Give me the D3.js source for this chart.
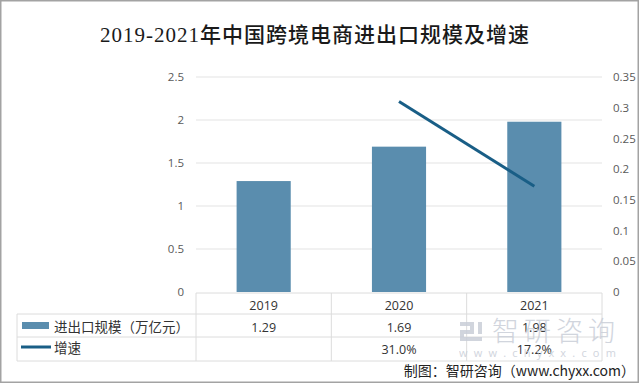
<!DOCTYPE html>
<html>
<head>
<meta charset="utf-8">
<script src="https://cdn.jsdelivr.net/npm/d3@7"></script>
<style>
  body { margin: 0; background: #fff; }
  svg { display: block; }
</style>
</head>
<body>
<div id="chart"></div>
<script>
// data
var years = ["2019", "2020", "2021"];
var scale = [1.29, 1.69, 1.98];        // 进出口规模（万亿元）
var growth = [null, 0.31, 0.172];      // 增速
var growthLabels = ["", "31.0%", "17.2%"];
var leftTicks = [0, 0.5, 1, 1.5, 2, 2.5];
var rightTicks = [0, 0.05, 0.1, 0.15, 0.2, 0.25, 0.3, 0.35];

var width = 640, height = 384;
var plot = { left: 196, right: 602, top: 77, bottom: 292 };
var barColor = "#5a8dae", lineColor = "#195e86";
var cjk = "'Noto Sans CJK SC', sans-serif";
var num = "'Open Sans', 'Noto Sans', sans-serif";

var svg = d3.select("#chart").append("svg")
    .attr("width", width)
    .attr("height", height);

// frame
svg.append("rect")
   .attr("x", 0.75).attr("y", 0.75)
   .attr("width", width - 2.5).attr("height", height - 2.5)
   .attr("fill", "#fff")
   .attr("stroke", "#a3a3a3")
   .attr("stroke-width", 1.5);

// title
svg.append("text")
   .attr("x", 315)
   .attr("y", 42)
   .attr("text-anchor", "middle")
   .style("font-family", "'Liberation Serif', 'Noto Sans CJK SC', serif")
   .style("font-size", "21px")
   .style("font-weight", 500)
   .style("letter-spacing", "1px")
   .attr("fill", "#1a1a1a")
   .text("2019-2021年中国跨境电商进出口规模及增速");

// scales
var x = d3.scaleBand()
          .domain(years)
          .range([plot.left, plot.right])
          .paddingInner(0.6)
          .paddingOuter(0.3);
var step = (plot.right - plot.left) / years.length;

var y = d3.scaleLinear().domain([0, 2.5]).range([plot.bottom, plot.top]);
var y2 = d3.scaleLinear().domain([0, 0.35]).range([plot.bottom, plot.top]);

// gridlines
svg.append("g")
   .selectAll("line")
   .data(leftTicks.slice(1))
   .join("line")
   .attr("x1", plot.left).attr("x2", plot.right)
   .attr("y1", function(d) { return y(d); })
   .attr("y2", function(d) { return y(d); })
   .attr("stroke", "#e3e3e3")
   .attr("stroke-width", 1);

// left axis
var leftAxis = svg.append("g")
   .attr("transform", "translate(" + (plot.left - 7) + ",0)")
   .call(d3.axisLeft(y).tickValues(leftTicks).tickSize(0).tickPadding(5)
           .tickFormat(function(d) { return String(d); }));
leftAxis.select(".domain").remove();
leftAxis.selectAll("text")
   .attr("fill", "#595959")
   .style("font-family", num)
   .style("font-size", "11.5px");

// right axis
var rightAxis = svg.append("g")
   .attr("transform", "translate(" + (plot.right + 6) + ",0)")
   .call(d3.axisRight(y2).tickValues(rightTicks).tickSize(0).tickPadding(5)
           .tickFormat(function(d) { return String(+d.toFixed(2)); }));
rightAxis.select(".domain").remove();
rightAxis.selectAll("text")
   .attr("fill", "#595959")
   .style("font-family", num)
   .style("font-size", "11.5px");

// bars
svg.append("g")
   .attr("fill", barColor)
   .selectAll("rect")
   .data(scale)
   .join("rect")
   .attr("x", function(d, i) { return x(years[i]); })
   .attr("width", x.bandwidth())
   .attr("y", function(d) { return y(d); })
   .attr("height", function(d) { return y(0) - y(d); });

// growth line
var linePts = growth.map(function(d, i) { return { year: years[i], v: d }; })
                    .filter(function(d) { return d.v !== null; });
svg.append("path")
   .datum(linePts)
   .attr("fill", "none")
   .attr("stroke", lineColor)
   .attr("stroke-width", 3)
   .attr("d", d3.line()
       .x(function(d) { return x(d.year) + x.bandwidth() / 2; })
       .y(function(d) { return y2(d.v); }));

// data table
var rows = { top: 293, r1: 314, r2: 337, bottom: 361 };
var tableLeft = 17;
var grid = svg.append("g").attr("stroke", "#dcdcdc").attr("stroke-width", 1);
grid.append("line").attr("x1", plot.left).attr("x2", plot.right).attr("y1", rows.top).attr("y2", rows.top);
[rows.r1, rows.r2, rows.bottom].forEach(function(yy) {
  grid.append("line").attr("x1", tableLeft).attr("x2", plot.right).attr("y1", yy).attr("y2", yy);
});
grid.append("line").attr("x1", tableLeft).attr("x2", tableLeft).attr("y1", rows.r1).attr("y2", rows.bottom);
d3.range(years.length + 1).forEach(function(i) {
  var xx = plot.left + i * step;
  grid.append("line").attr("x1", xx).attr("x2", xx).attr("y1", rows.top).attr("y2", rows.bottom);
});

function cellText(sel, yy) {
  return sel.attr("x", function(d, i) { return x(years[i]) + x.bandwidth() / 2; })
            .attr("y", yy)
            .attr("text-anchor", "middle")
            .attr("fill", "#333")
            .style("font-family", num)
            .style("font-size", "12.5px");
}

// header row
cellText(svg.append("g").selectAll("text").data(years).join("text"), 310)
   .text(function(d) { return d; });
// value rows
cellText(svg.append("g").selectAll("text").data(scale).join("text"), 332)
   .text(function(d) { return d.toFixed(2); });
cellText(svg.append("g").selectAll("text").data(growthLabels).join("text"), 354)
   .text(function(d) { return d; });

// legend keys inside the table
svg.append("rect")
   .attr("x", 22).attr("y", 322)
   .attr("width", 27).attr("height", 7)
   .attr("fill", barColor);
svg.append("text")
   .attr("x", 54).attr("y", 332)
   .style("font-family", cjk)
   .style("font-size", "13.5px")
   .attr("fill", "#333")
   .text("进出口规模（万亿元）");
svg.append("line")
   .attr("x1", 21).attr("x2", 51)
   .attr("y1", 347).attr("y2", 347)
   .attr("stroke", lineColor)
   .attr("stroke-width", 3);
svg.append("text")
   .attr("x", 54).attr("y", 353)
   .style("font-family", cjk)
   .style("font-size", "13.5px")
   .attr("fill", "#333")
   .text("增速");

// watermark
var wm = svg.append("g").attr("fill", "#c9ced8").attr("opacity", 0.85);
wm.append("rect").attr("x", 460).attr("y", 322).attr("width", 14).attr("height", 4);
wm.append("rect").attr("x", 470).attr("y", 322).attr("width", 4).attr("height", 12);
wm.append("rect").attr("x", 460).attr("y", 330).attr("width", 14).attr("height", 4);
wm.append("rect").attr("x", 460).attr("y", 330).attr("width", 4).attr("height", 11);
wm.append("rect").attr("x", 460).attr("y", 337).attr("width", 22).attr("height", 4);
wm.append("rect").attr("x", 478).attr("y", 322).attr("width", 4).attr("height", 12);
wm.append("text")
  .attr("x", 492).attr("y", 341)
  .style("font-family", cjk)
  .style("font-size", "27px")
  .style("font-weight", 300)
  .style("letter-spacing", "5px")
  .text("智研咨询");
wm.append("text")
  .attr("x", 459).attr("y", 357)
  .style("font-family", num)
  .style("font-size", "11px")
  .style("letter-spacing", "6.2px")
  .text("www.chyxx.com");

// source
svg.append("text")
   .attr("x", 635).attr("y", 376)
   .attr("text-anchor", "end")
   .style("font-family", cjk)
   .style("font-size", "14px")
   .attr("fill", "#222")
   .text("制图：智研咨询（www.chyxx.com）");
</script>
</body>
</html>
